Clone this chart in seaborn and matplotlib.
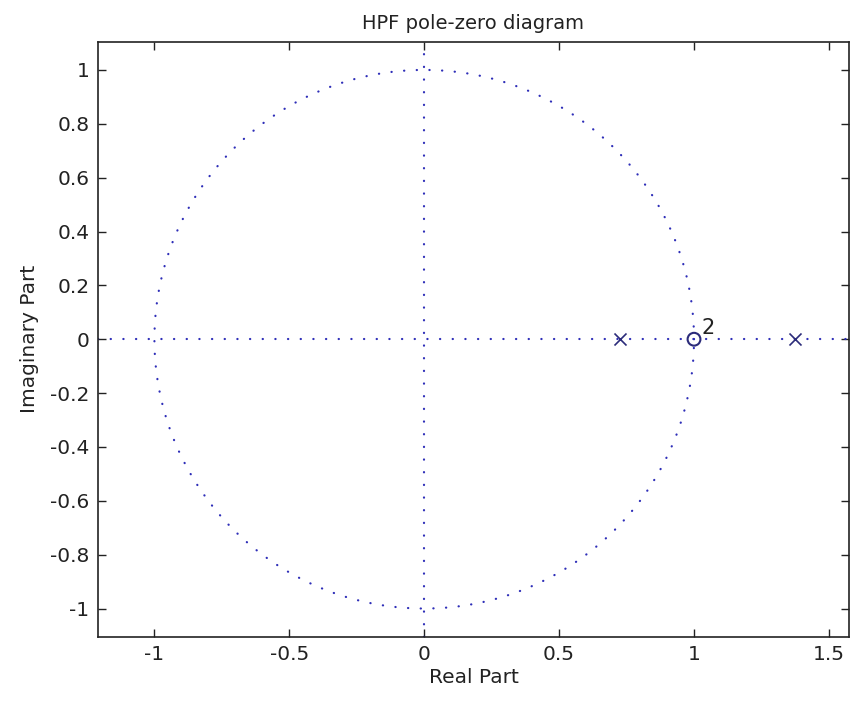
import numpy as np
import pandas as pd
import matplotlib
matplotlib.use("Agg")
import matplotlib.pyplot as plt
import seaborn as sns

# Pole-zero data of the high-pass filter
pole_re = [0.727, 1.375]
pole_im = [0.0, 0.0]
zero_re = [1.0]
zero_im = [0.0]
zero_mult = ["2"]

title = "HPF pole-zero diagram"
xlabel = "Real Part"
ylabel = "Imaginary Part"
xticks = [-1, -0.5, 0, 0.5, 1, 1.5]
yticks = [-1, -0.8, -0.6, -0.4, -0.2, 0, 0.2, 0.4, 0.6, 0.8, 1]

sns.set_theme(style="white")
plt.rcParams["font.family"] = ["DejaVu Sans"]

fig = plt.figure(figsize=(8.5, 7.06), dpi=100)
ax = fig.add_axes([0.115, 0.098, 0.884, 0.843])

xlim = (-1.21, 1.575)
ylim = (-1.105, 1.105)

dot_style = dict(color="#2e2eb8", linewidth=1.6, linestyle=(0, (0.1, 5.6)),
                 dash_capstyle="round")

# unit circle
theta = np.linspace(0, 2 * np.pi, 721)
circle = pd.DataFrame({"re": np.cos(theta), "im": np.sin(theta)})
sns.lineplot(data=circle, x="re", y="im", sort=False, estimator=None, ax=ax, **dot_style)

# real and imaginary axes
ax.axhline(0, **dot_style)
ax.axvline(0, **dot_style)

marker_color = "#2b2b7a"
poles = pd.DataFrame({"re": pole_re, "im": pole_im})
zeros = pd.DataFrame({"re": zero_re, "im": zero_im})
sns.scatterplot(data=poles, x="re", y="im", marker="x", s=75, color=marker_color,
                linewidth=1.2, ax=ax, zorder=5)
sns.scatterplot(data=zeros, x="re", y="im", marker="o", s=85, facecolor="none",
                edgecolor=marker_color, linewidth=1.5, ax=ax, zorder=5)
for r, i, m in zip(zero_re, zero_im, zero_mult):
    ax.text(r + 0.028, i + 0.005, m, ha="left", va="bottom", fontsize=15, color="#222222")

ax.set_xlim(*xlim)
ax.set_ylim(*ylim)
ax.set_xticks(xticks)
ax.set_yticks(yticks)
ax.set_xticklabels([f"{t:g}" for t in xticks])
ax.set_yticklabels([f"{t:g}" for t in yticks])

ax.tick_params(direction="in", length=6, width=1, colors="#222222", labelsize=14.5,
               top=True, right=True, bottom=True, left=True, pad=6)
for sp in ax.spines.values():
    sp.set_visible(True)
    sp.set_color("#222222")
    sp.set_linewidth(1.2)

ax.set_title(title, fontsize=14, color="#222222", pad=9)
ax.set_xlabel(xlabel, fontsize=14.5, color="#222222", labelpad=3)
ax.set_ylabel(ylabel, fontsize=14.5, color="#222222", labelpad=8)

fig.savefig("out.png", dpi=100)
